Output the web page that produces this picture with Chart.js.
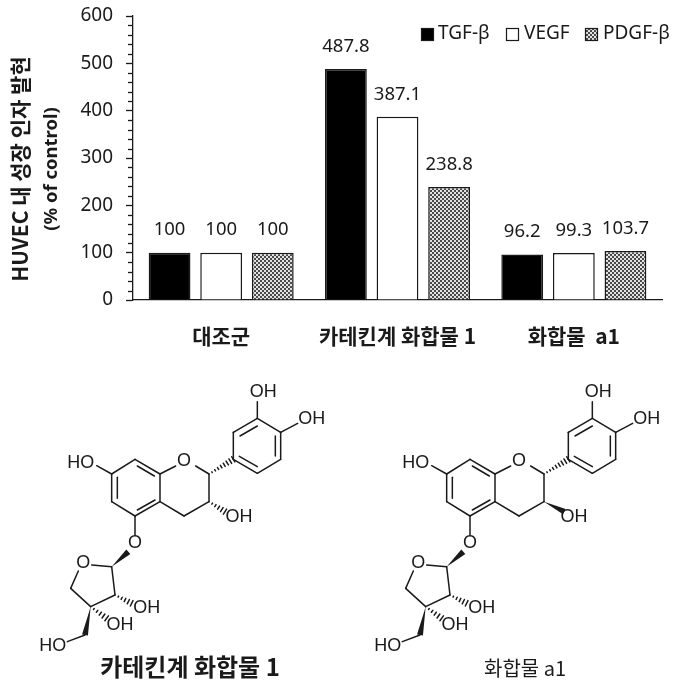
<!DOCTYPE html>
<html>
<head>
<meta charset="utf-8">
<title>HUVEC</title>
<script src="https://cdn.jsdelivr.net/npm/chart.js@4"></script>
<style>
    html, body { margin: 0; padding: 0; background: #fff; }
    canvas { display: block; }
</style>
</head>
<body>
<canvas id="growthChart" width="680" height="686"></canvas>
<script>
// Chart data
const categories = ['대조군', '카테킨계 화합물 1', '화합물  a1'];
const tgfValues = [100, 487.8, 96.2];
const vegfValues = [100, 387.1, 99.3];
const pdgfValues = [100, 238.8, 103.7];
const seriesNames = ['TGF-β', 'VEGF', 'PDGF-β'];
const yTitleLines = ['HUVEC 내 성장 인자 발현', '(% of control)'];
const structureCaptions = ['카테킨계 화합물 1', '화합물 a1'];

const LATIN = '"Noto Sans", "Noto Sans CJK KR", sans-serif';
const KOREAN = '"Noto Sans CJK KR", "Noto Sans", sans-serif';
const INK = '#1a1a1a';

// Dotted fill for the PDGF-β bars
function makeDither() {
    const c = document.createElement('canvas');
    c.width = 4;
    c.height = 4;
    const g = c.getContext('2d');
    g.fillStyle = '#e2e2e2';
    g.fillRect(0, 0, 4, 4);
    g.fillStyle = '#4a4a4a';
    g.fillRect(0, 0, 2, 2);
    g.fillRect(2, 2, 2, 2);
    return g.createPattern(c, 'repeat');
}
const dither = makeDither();

// Molecule drawing, units are 1/3 px from the corner of the structure
const plainBonds = [
    [682,145,752,187],[752,187,752,268],[752,268,682,310],[682,310,610,268],[610,268,610,187],[610,187,682,145],
    [682,145,682,95],[752,187,803,160],
    [630,198,682,168],[736,198,736,258],[682,290,628,259],
    [537,312,497,288],[537,312,537,395],[537,395,462,438],[462,438,390,395],
    [390,312,437,288],[390,312,390,395],[390,312,315,268],[315,268,245,312],[245,312,245,395],[245,395,315,438],[315,438,390,395],
    [245,312,200,287],[322,288,373,318],[262,322,262,385],[322,420,375,390],
    [315,438,315,495],
    [245,590,185,585],[245,590,255,675],[255,675,182,710],[182,710,122,655],[122,655,145,603],
    [165,795,112,815]
];
const wedgeBonds = [[245,590,295,545],[182,710,165,795]];
const hashBonds = [[537,312,610,268],[255,675,305,700],[182,710,230,745]];
const atomLabels = [
    ['OH',700,65],['OH',845,148],['HO',152,278],['O',462,272],['O',315,520],['O',160,580],
    ['OH',350,715],['OH',270,765],['HO',68,828]
];
const c3Hash = [537,395,585,425];
const c3Wedge = [537,395,598,425];

function drawWedge(ctx, b) {
    const dx = b[2] - b[0], dy = b[3] - b[1], len = Math.hypot(dx, dy);
    const nx = -dy / len * 9, ny = dx / len * 9;
    ctx.beginPath();
    ctx.moveTo(b[0], b[1]);
    ctx.lineTo(b[2] + nx, b[3] + ny);
    ctx.lineTo(b[2] - nx, b[3] - ny);
    ctx.closePath();
    ctx.fill();
}

function drawHash(ctx, b) {
    const dx = b[2] - b[0], dy = b[3] - b[1], len = Math.hypot(dx, dy);
    const steps = Math.round(len / 11);
    for (let i = 1; i <= steps; i++) {
        const t = i / steps;
        const nx = -dy / len * 9 * t, ny = dx / len * 9 * t;
        ctx.beginPath();
        ctx.moveTo(b[0] + dx * t + nx, b[1] + dy * t + ny);
        ctx.lineTo(b[0] + dx * t - nx, b[1] + dy * t - ny);
        ctx.stroke();
    }
}

function drawMolecule(ctx, originX, originY, isA1) {
    ctx.save();
    ctx.translate(originX, originY);
    ctx.scale(1 / 3, 1 / 3);
    ctx.strokeStyle = INK;
    ctx.fillStyle = INK;
    ctx.lineWidth = 4.5;
    ctx.lineCap = 'round';
    plainBonds.forEach(b => {
        ctx.beginPath();
        ctx.moveTo(b[0], b[1]);
        ctx.lineTo(b[2], b[3]);
        ctx.stroke();
    });
    wedgeBonds.forEach(b => drawWedge(ctx, b));
    hashBonds.forEach(b => drawHash(ctx, b));
    if (isA1) {
        drawWedge(ctx, c3Wedge);
    } else {
        drawHash(ctx, c3Hash);
    }
    ctx.font = '54px "Liberation Sans", sans-serif';
    ctx.textAlign = 'center';
    ctx.textBaseline = 'middle';
    atomLabels.forEach(a => ctx.fillText(a[0], a[1], a[2]));
    ctx.fillText('OH', 627, 440);
    ctx.restore();
}

// Labels above bars, minor ticks, y title, legend and the two structures
const extras = {
    id: 'extras',
    afterDatasetsDraw(chart) {
        const ctx = chart.ctx;
        const y = chart.scales.y;
        ctx.save();

        // value labels
        ctx.fillStyle = INK;
        ctx.font = '18.5px ' + LATIN;
        ctx.textAlign = 'center';
        ctx.textBaseline = 'middle';
        chart.data.datasets.forEach((ds, i) => {
            chart.getDatasetMeta(i).data.forEach((bar, j) => {
                ctx.fillText(String(ds.data[j]), bar.x, bar.y - 22.5);
            });
        });

        // minor ticks
        ctx.strokeStyle = INK;
        ctx.lineWidth = 1.3;
        for (let v = 20; v < 600; v += 20) {
            if (v % 100 === 0) continue;
            const py = Math.round(y.getPixelForValue(v)) + 0.5;
            ctx.beginPath();
            ctx.moveTo(y.right - 5, py);
            ctx.lineTo(y.right, py);
            ctx.stroke();
        }

        // y title
        ctx.save();
        ctx.translate(20, 169);
        ctx.rotate(-Math.PI / 2);
        ctx.font = 'bold 21px ' + KOREAN;
        ctx.fillText(yTitleLines[0], 0, 0);
        ctx.font = 'bold 18.5px ' + LATIN;
        ctx.fillText(yTitleLines[1], 0, 32);
        ctx.restore();

        // legend
        const swatchX = [421, 506, 585];
        const textX = [438, 524, 603];
        ctx.textAlign = 'left';
        ctx.font = '19px ' + LATIN;
        ctx.lineWidth = 1.2;
        chart.data.datasets.forEach((ds, i) => {
            ctx.fillStyle = ds.backgroundColor;
            ctx.fillRect(swatchX[i], 28, 13, 13);
            ctx.strokeRect(swatchX[i] + 0.5, 28.5, 12, 12);
            ctx.fillStyle = INK;
            ctx.fillText(seriesNames[i], textX[i], 34);
        });

        // structures
        drawMolecule(ctx, 30, 370, false);
        drawMolecule(ctx, 365, 370, true);
        ctx.textAlign = 'center';
        ctx.fillStyle = INK;
        ctx.font = 'bold 24px ' + KOREAN;
        ctx.fillText(structureCaptions[0], 190, 667);
        ctx.font = '20px ' + KOREAN;
        ctx.fillText(structureCaptions[1], 525, 668);
        ctx.restore();
    }
};

function barSeries(label, data, fill) {
    return {
        label: label,
        data: data,
        backgroundColor: fill,
        borderColor: INK,
        borderWidth: 1.5,
        categoryPercentage: 0.878,
        barPercentage: 0.81
    };
}

new Chart(document.getElementById('growthChart').getContext('2d'), {
    type: 'bar',
    data: {
        labels: categories,
        datasets: [
            barSeries(seriesNames[0], tgfValues, '#000000'),
            barSeries(seriesNames[1], vegfValues, '#ffffff'),
            barSeries(seriesNames[2], pdgfValues, dither)
        ]
    },
    options: {
        responsive: false,
        animation: false,
        layout: { padding: { left: 0, right: 18, top: 16, bottom: 336 } },
        plugins: {
            legend: { display: false },
            tooltip: { enabled: false }
        },
        scales: {
            x: {
                afterFit: scale => {
                    scale.height = 50;
                    scale.paddingLeft = 0;
                    scale.paddingRight = 0;
                },
                border: { color: INK, width: 1.3 },
                grid: { display: false, drawTicks: false },
                ticks: {
                    color: INK,
                    padding: 23,
                    maxRotation: 0,
                    font: { family: KOREAN, size: 21, weight: 'bold' }
                }
            },
            y: {
                min: 0,
                max: 600,
                afterFit: scale => {
                    scale.width = 133;
                    scale.paddingTop = 0;
                    scale.paddingBottom = 0;
                },
                border: { color: INK, width: 1.3 },
                grid: { drawOnChartArea: false, tickLength: 7, tickColor: INK, tickWidth: 1.3 },
                ticks: {
                    stepSize: 100,
                    color: INK,
                    padding: 13,
                    font: { family: LATIN, size: 19 }
                }
            }
        }
    },
    plugins: [extras]
});
</script>
</body>
</html>
